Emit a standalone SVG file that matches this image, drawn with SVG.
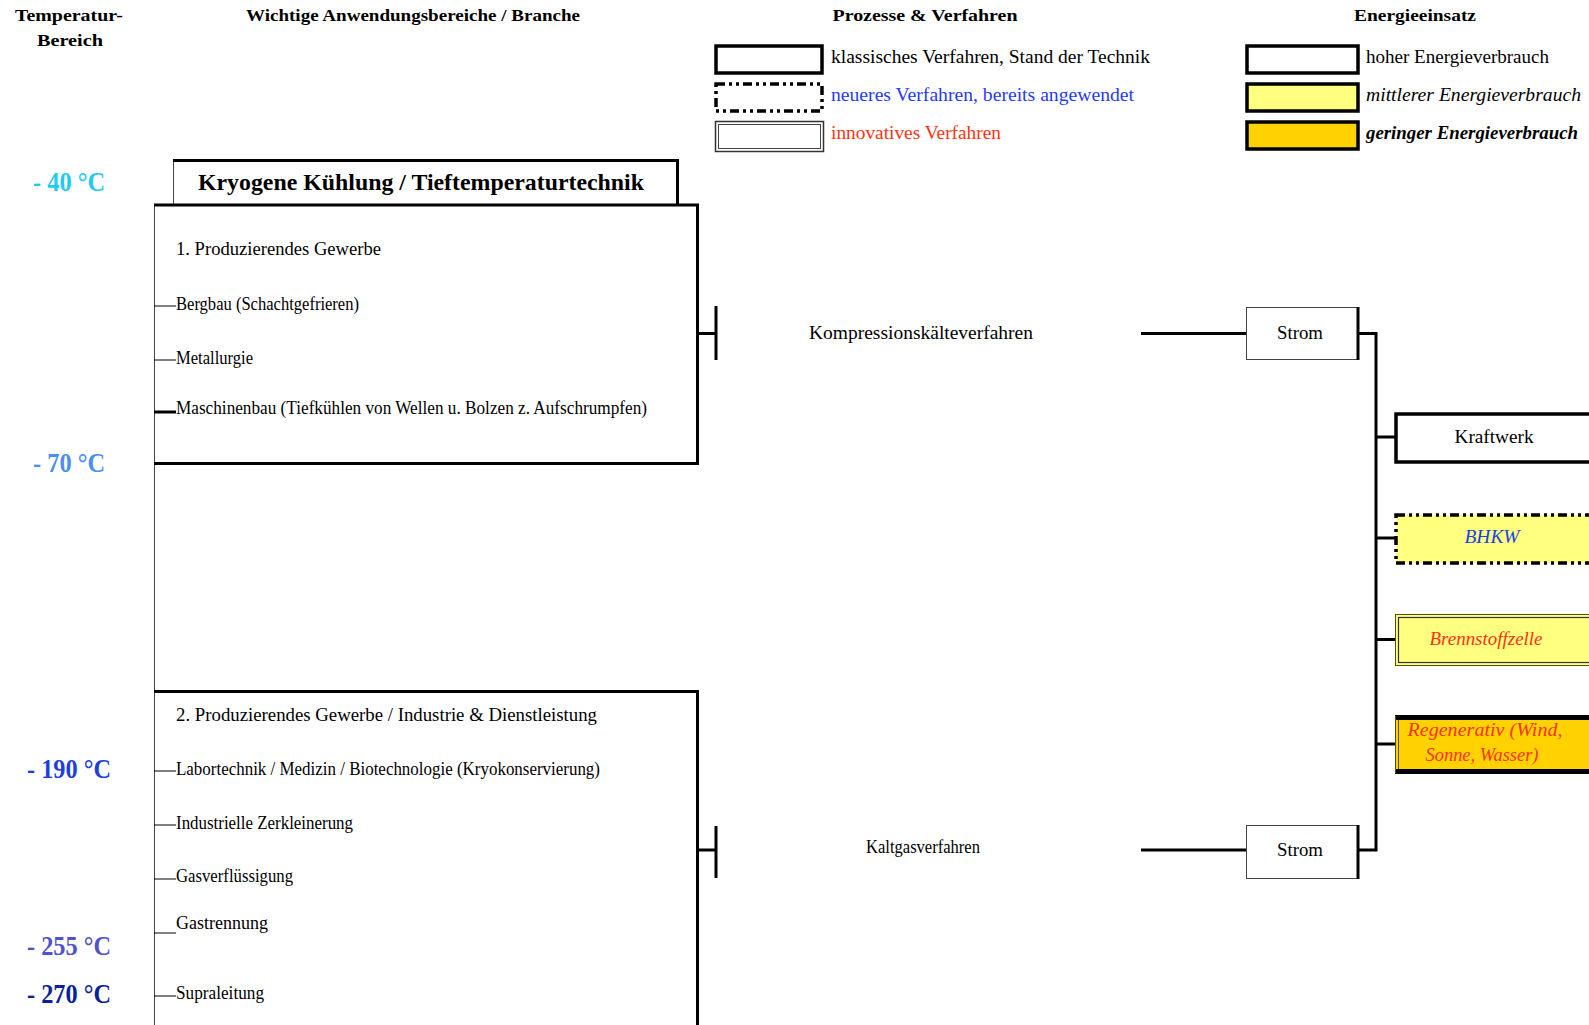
<svg xmlns="http://www.w3.org/2000/svg" width="1589" height="1025" viewBox="0 0 1589 1025">
<style>
text{font-family:"Liberation Serif","Times New Roman",serif;fill:#000}
.hd{font-size:17px;font-weight:bold}
.tx{font-size:18px}
.tp{font-size:27px;font-weight:bold}
.thin{stroke:#444;stroke-width:1;fill:none}
.thk{stroke:#000;stroke-width:3;fill:none}
.ln{stroke:#000;stroke-width:3;fill:none}
.tk{stroke:#000;stroke-width:1;fill:none}
.dd{stroke:#000;stroke-width:3.5;stroke-dasharray:9 4 3 4 3 4}
.yel{fill:#FFFF80}
.gold{fill:#FFD200}
.blue{fill:#1F3BFF}
.red{fill:#FF3311}
.it{font-style:italic}
</style>
<rect width="1589" height="1025" fill="#fff"/>

<g id="headers">
<text class="hd" x="69" y="21" text-anchor="middle" textLength="108" lengthAdjust="spacingAndGlyphs">Temperatur-</text>
<text class="hd" x="70" y="46" text-anchor="middle" textLength="66" lengthAdjust="spacingAndGlyphs">Bereich</text>
<text class="hd" x="413" y="21" text-anchor="middle" textLength="334" lengthAdjust="spacingAndGlyphs">Wichtige Anwendungsbereiche / Branche</text>
<text class="hd" x="925" y="21" text-anchor="middle" textLength="185" lengthAdjust="spacingAndGlyphs">Prozesse &amp; Verfahren</text>
<text class="hd" x="1415" y="21" text-anchor="middle" textLength="122" lengthAdjust="spacingAndGlyphs">Energieeinsatz</text>
</g>

<g id="legend-prozesse">
<rect x="716" y="46" width="106" height="27" fill="#fff" stroke="#000" stroke-width="3.5"/>
<text class="tx" x="831" y="63" textLength="319" lengthAdjust="spacingAndGlyphs">klassisches Verfahren, Stand der Technik</text>
<rect x="716" y="84" width="106" height="27" fill="#fff" class="dd"/>
<text class="tx blue" x="831" y="101" textLength="303" lengthAdjust="spacingAndGlyphs">neueres Verfahren, bereits angewendet</text>
<rect x="715.5" y="121.5" width="108" height="30" fill="#fff" stroke="#333" stroke-width="1.5"/>
<rect x="718.5" y="124.5" width="102" height="24" fill="none" class="thin"/>
<text class="tx red" x="831" y="139" textLength="170" lengthAdjust="spacingAndGlyphs">innovatives Verfahren</text>
</g>

<g id="legend-energie">
<rect x="1247" y="46" width="111" height="27" fill="#fff" stroke="#000" stroke-width="3.5"/>
<text class="tx" x="1366" y="63" textLength="183" lengthAdjust="spacingAndGlyphs">hoher Energieverbrauch</text>
<rect x="1247" y="84" width="111" height="27" class="yel" stroke="#000" stroke-width="3.5"/>
<text class="tx it" x="1366" y="101" textLength="215" lengthAdjust="spacingAndGlyphs">mittlerer Energieverbrauch</text>
<rect x="1247" y="122" width="111" height="27" class="gold" stroke="#000" stroke-width="3.5"/>
<text class="tx it" x="1366" y="139" font-weight="bold" textLength="212" lengthAdjust="spacingAndGlyphs">geringer Energieverbrauch</text>
</g>

<g id="temperatures">
<text class="tp" x="69" y="191" text-anchor="middle" style="fill:#1FCBF4" textLength="72" lengthAdjust="spacingAndGlyphs">- 40 °C</text>
<text class="tp" x="69" y="472" text-anchor="middle" style="fill:#4A8FF5" textLength="72" lengthAdjust="spacingAndGlyphs">- 70 °C</text>
<text class="tp" x="69" y="778" text-anchor="middle" style="fill:#1F3FDD" textLength="84" lengthAdjust="spacingAndGlyphs">- 190 °C</text>
<text class="tp" x="69" y="955" text-anchor="middle" style="fill:#5252CC" textLength="84" lengthAdjust="spacingAndGlyphs">- 255 °C</text>
<text class="tp" x="69" y="1003" text-anchor="middle" style="fill:#0A1F9A" textLength="84" lengthAdjust="spacingAndGlyphs">- 270 °C</text>
</g>

<g id="title">
<rect x="173" y="159" width="505" height="44" fill="#fff"/>
<line x1="173.5" y1="159" x2="173.5" y2="204" class="thin"/>
<path d="M173 160.5 H677.5 V204" class="thk"/>
<text x="421" y="190" text-anchor="middle" font-size="24" font-weight="bold" textLength="446" lengthAdjust="spacingAndGlyphs">Kryogene Kühlung / Tieftemperaturtechnik</text>
</g>

<g id="spine">
<line x1="154.5" y1="204" x2="154.5" y2="1025" class="thin"/>
</g>

<g id="box1">
<path d="M154 205 H697.5 V463.5 H154" class="thk"/>
<text class="tx" x="176" y="255" textLength="205" lengthAdjust="spacingAndGlyphs">1. Produzierendes Gewerbe</text>
<line x1="154" y1="306" x2="176" y2="306" class="tk"/>
<text class="tx" x="176" y="310" textLength="183" lengthAdjust="spacingAndGlyphs">Bergbau (Schachtgefrieren)</text>
<line x1="154" y1="360" x2="176" y2="360" class="tk"/>
<text class="tx" x="176" y="364" textLength="77" lengthAdjust="spacingAndGlyphs">Metallurgie</text>
<line x1="154" y1="412" x2="176" y2="412" stroke="#000" stroke-width="3"/>
<text class="tx" x="176" y="413.5" textLength="471" lengthAdjust="spacingAndGlyphs">Maschinenbau (Tiefkühlen von Wellen u. Bolzen z. Aufschrumpfen)</text>
</g>

<g id="box2">
<path d="M154 691.5 H697.5 V1025" class="thk"/>
<text class="tx" x="176" y="720.5" textLength="421" lengthAdjust="spacingAndGlyphs">2. Produzierendes Gewerbe / Industrie &amp; Dienstleistung</text>
<line x1="154" y1="771" x2="176" y2="771" class="tk"/>
<text class="tx" x="176" y="775" textLength="424" lengthAdjust="spacingAndGlyphs">Labortechnik / Medizin / Biotechnologie (Kryokonservierung)</text>
<line x1="154" y1="825" x2="176" y2="825" class="tk"/>
<text class="tx" x="176" y="829" textLength="177" lengthAdjust="spacingAndGlyphs">Industrielle Zerkleinerung</text>
<line x1="154" y1="879" x2="176" y2="879" class="tk"/>
<text class="tx" x="176" y="881.5" textLength="117" lengthAdjust="spacingAndGlyphs">Gasverflüssigung</text>
<line x1="154" y1="933" x2="176" y2="933" class="tk"/>
<text class="tx" x="176" y="929" textLength="92" lengthAdjust="spacingAndGlyphs">Gastrennung</text>
<line x1="154" y1="996" x2="176" y2="996" class="tk"/>
<text class="tx" x="176" y="999" textLength="88" lengthAdjust="spacingAndGlyphs">Supraleitung</text>
</g>

<g id="proc1">
<text class="tx" x="921" y="338.5" text-anchor="middle" textLength="224" lengthAdjust="spacingAndGlyphs">Kompressionskälteverfahren</text>
</g>
<g id="proc2">
<text class="tx" x="923" y="853" text-anchor="middle" textLength="114" lengthAdjust="spacingAndGlyphs">Kaltgasverfahren</text>
</g>

<g id="strom1">
<rect x="1246.5" y="307.5" width="111" height="52" fill="#fff" class="thin"/>
<line x1="1358" y1="307" x2="1358" y2="360" class="ln"/>
<text class="tx" x="1300" y="338.5" text-anchor="middle" textLength="46" lengthAdjust="spacingAndGlyphs">Strom</text>
</g>
<g id="strom2">
<rect x="1246.5" y="825.5" width="111" height="53" fill="#fff" class="thin"/>
<line x1="1358" y1="825" x2="1358" y2="879" class="ln"/>
<text class="tx" x="1300" y="856" text-anchor="middle" textLength="46" lengthAdjust="spacingAndGlyphs">Strom</text>
</g>

<g id="kraftwerk">
<rect x="1396" y="414" width="210" height="48" fill="#fff" stroke="#000" stroke-width="3.5"/>
<text class="tx" x="1494" y="443" text-anchor="middle" textLength="79" lengthAdjust="spacingAndGlyphs">Kraftwerk</text>
</g>
<g id="bhkw">
<rect x="1396" y="515" width="210" height="48" class="yel dd"/>
<text class="tx it" x="1492" y="543" text-anchor="middle" style="fill:#2040E0" textLength="55" lengthAdjust="spacingAndGlyphs">BHKW</text>
</g>
<g id="brennstoffzelle">
<rect x="1395.5" y="614.5" width="210" height="51" class="yel" stroke="#555500" stroke-width="1"/>
<rect x="1398.5" y="617.5" width="210" height="45" fill="none" stroke="#333" stroke-width="1.2"/>
<text class="tx it red" x="1486" y="644.5" text-anchor="middle" textLength="113" lengthAdjust="spacingAndGlyphs">Brennstoffzelle</text>
</g>
<g id="regenerativ">
<rect x="1395" y="716" width="210" height="57" class="gold"/>
<line x1="1395" y1="717.5" x2="1600" y2="717.5" stroke="#000" stroke-width="5"/>
<line x1="1395" y1="771.5" x2="1600" y2="771.5" stroke="#000" stroke-width="5"/>
<line x1="1395.5" y1="716" x2="1395.5" y2="773" stroke="#555500" stroke-width="1"/>
<line x1="1398.5" y1="720" x2="1398.5" y2="769" stroke="#555500" stroke-width="1"/>
<text class="tx it red" x="1485" y="736" text-anchor="middle" textLength="155" lengthAdjust="spacingAndGlyphs">Regenerativ (Wind,</text>
<text class="tx it red" x="1482" y="761" text-anchor="middle" textLength="113" lengthAdjust="spacingAndGlyphs">Sonne, Wasser)</text>
</g>

<g id="connectors">
<line x1="697" y1="333.5" x2="716" y2="333.5" class="ln"/>
<line x1="716" y1="306" x2="716" y2="360" class="ln"/>
<line x1="1141" y1="333.5" x2="1246" y2="333.5" class="ln"/>
<line x1="697" y1="850" x2="716" y2="850" class="ln"/>
<line x1="716" y1="826" x2="716" y2="878" class="ln"/>
<line x1="1141" y1="850" x2="1246" y2="850" class="ln"/>
<path d="M1358 333.5 H1376 V850 H1358" class="ln"/>
<line x1="1376" y1="437" x2="1395" y2="437" class="ln"/>
<line x1="1376" y1="538" x2="1395" y2="538" class="ln"/>
<line x1="1376" y1="639.5" x2="1395" y2="639.5" class="ln"/>
<line x1="1376" y1="744" x2="1395" y2="744" class="ln"/>
</g>
</svg>
